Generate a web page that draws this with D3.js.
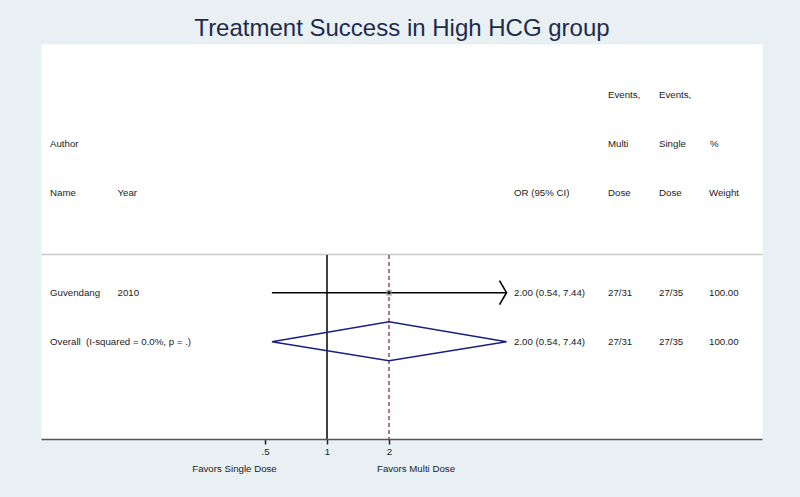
<!DOCTYPE html>
<html lang="en">
<head>
<meta charset="utf-8">
<title>Treatment Success in High HCG group</title>
<script src="https://d3js.org/d3.v7.min.js"></script>
<style>
  body { margin: 0; background: #e8f0f3; }
  svg { display: block; font-family: "Liberation Sans", Arial, sans-serif; }
  svg text { white-space: pre; }
</style>
</head>
<body>
<script>
// study rows
var authors = ["Guvendang"];
var years = ["2010"];
var orEst = [2.00];
var orLow = [0.54];
var orHigh = [7.44];
var eventsMulti = ["27/31"];
var eventsSingle = ["27/35"];
var weights = ["100.00"];

// pooled estimate
var overallLabel = "Overall  (I-squared = 0.0%, p = .)";
var overallEst = 2.00, overallLow = 0.54, overallHigh = 7.44;
var overallMulti = "27/31", overallSingle = "27/35", overallWeight = "100.00";

var tickValues = [0.5, 1, 2];
var tickLabels = [".5", "1", "2"];

var width = 800, height = 497;
var fs = 9.7;

var svg = d3.select("body").append("svg")
    .attr("width", width)
    .attr("height", height);

svg.append("rect").attr("width", width).attr("height", height).attr("fill", "#e8f0f3");
svg.append("rect")
    .attr("x", 41.5).attr("y", 44.5)
    .attr("width", 721).attr("height", 395)
    .attr("fill", "#ffffff");

svg.append("text")
    .attr("x", 402).attr("y", 36)
    .attr("text-anchor", "middle")
    .attr("font-size", 24)
    .attr("fill", "#1f2a4d")
    .text("Treatment Success in High HCG group");

// log scale, 62px per doubling
var x = d3.scaleLog().base(2).domain([0.5, 2]).range([265, 389]);

var rowY = d3.scaleOrdinal()
    .domain(["study0", "overall"])
    .range([292.7, 341.7]);

function txt(xp, yc, s, anchor) {
  svg.append("text")
      .attr("x", xp).attr("y", yc + fs * 0.35)
      .attr("font-size", fs)
      .attr("fill", "#222")
      .attr("text-anchor", anchor || "start")
      .text(s);
}

// header
txt(50, 144, "Author");
txt(50, 193, "Name");
txt(117.5, 193, "Year");
txt(514, 193, "OR (95% CI)");
txt(608, 95, "Events,");
txt(608, 144, "Multi");
txt(608, 193, "Dose");
txt(659, 95, "Events,");
txt(659, 144, "Single");
txt(659, 193, "Dose");
txt(710, 144, "%");
txt(709, 193, "Weight");

svg.append("line")
    .attr("x1", 41.5).attr("x2", 762.5)
    .attr("y1", 254.5).attr("y2", 254.5)
    .attr("stroke", "#c8c8c8").attr("stroke-width", 1.5);

// no-effect line and pooled estimate line
svg.append("line")
    .attr("x1", x(1)).attr("x2", x(1))
    .attr("y1", 255).attr("y2", 439)
    .attr("stroke", "#000").attr("stroke-width", 1.5);

svg.append("line")
    .attr("x1", x(overallEst)).attr("x2", x(overallEst))
    .attr("y1", 255).attr("y2", 439)
    .attr("stroke", "#8a2a45").attr("stroke-width", 1.3)
    .attr("stroke-dasharray", "4,3");

// study rows
authors.forEach(function(a, i) {
  var yc = rowY("study" + i);
  txt(50, yc, a);
  txt(117.5, yc, years[i]);
  var xl = x(orLow[i]), xh = x(orHigh[i]);
  svg.append("line")
      .attr("x1", xl).attr("x2", xh)
      .attr("y1", yc).attr("y2", yc)
      .attr("stroke", "#000").attr("stroke-width", 1.6);
  // open arrow head at the upper end
  svg.append("path")
      .attr("d", d3.line()([[xh - 7, yc - 12], [xh, yc], [xh - 7, yc + 12]]))
      .attr("fill", "none").attr("stroke", "#000").attr("stroke-width", 1.6);
  svg.append("rect")
      .attr("x", x(orEst[i]) - 3).attr("y", yc - 3)
      .attr("width", 6).attr("height", 6)
      .attr("fill", "#999").attr("opacity", 0.6);
  svg.append("circle")
      .attr("cx", x(orEst[i])).attr("cy", yc).attr("r", 1.8)
      .attr("fill", "#222");
  txt(514, yc, orEst[i].toFixed(2) + " (" + orLow[i].toFixed(2) + ", " + orHigh[i].toFixed(2) + ")");
  txt(608, yc, eventsMulti[i]);
  txt(659, yc, eventsSingle[i]);
  txt(709, yc, weights[i]);
});

// overall diamond
var oy = rowY("overall");
svg.append("path")
    .attr("d", d3.line()([
      [x(overallLow), oy], [x(overallEst), oy - 20],
      [x(overallHigh), oy], [x(overallEst), oy + 19], [x(overallLow), oy]
    ]))
    .attr("fill", "none").attr("stroke", "#1a2080").attr("stroke-width", 1.5);
txt(50, oy, overallLabel);
txt(514, oy, overallEst.toFixed(2) + " (" + overallLow.toFixed(2) + ", " + overallHigh.toFixed(2) + ")");
txt(608, oy, overallMulti);
txt(659, oy, overallSingle);
txt(709, oy, overallWeight);

// x axis
var axis = svg.append("g")
    .attr("transform", "translate(0,439.5)")
    .call(d3.axisBottom(x).tickValues(tickValues)
      .tickFormat(function(d, i) { return tickLabels[i]; })
      .tickSize(5).tickPadding(4));
axis.select(".domain").remove();
axis.append("line")
    .attr("x1", 41.5).attr("x2", 762.5)
    .attr("stroke", "#555").attr("stroke-width", 1.6);
axis.selectAll(".tick line").attr("stroke", "#222").attr("stroke-width", 1.5);
axis.selectAll(".tick text")
    .attr("font-family", "Liberation Sans, Arial, sans-serif")
    .attr("font-size", fs).attr("fill", "#222");

txt(234.5, 468.5, "Favors Single Dose", "middle");
txt(416, 468.5, "Favors Multi Dose", "middle");
</script>
</body>
</html>
